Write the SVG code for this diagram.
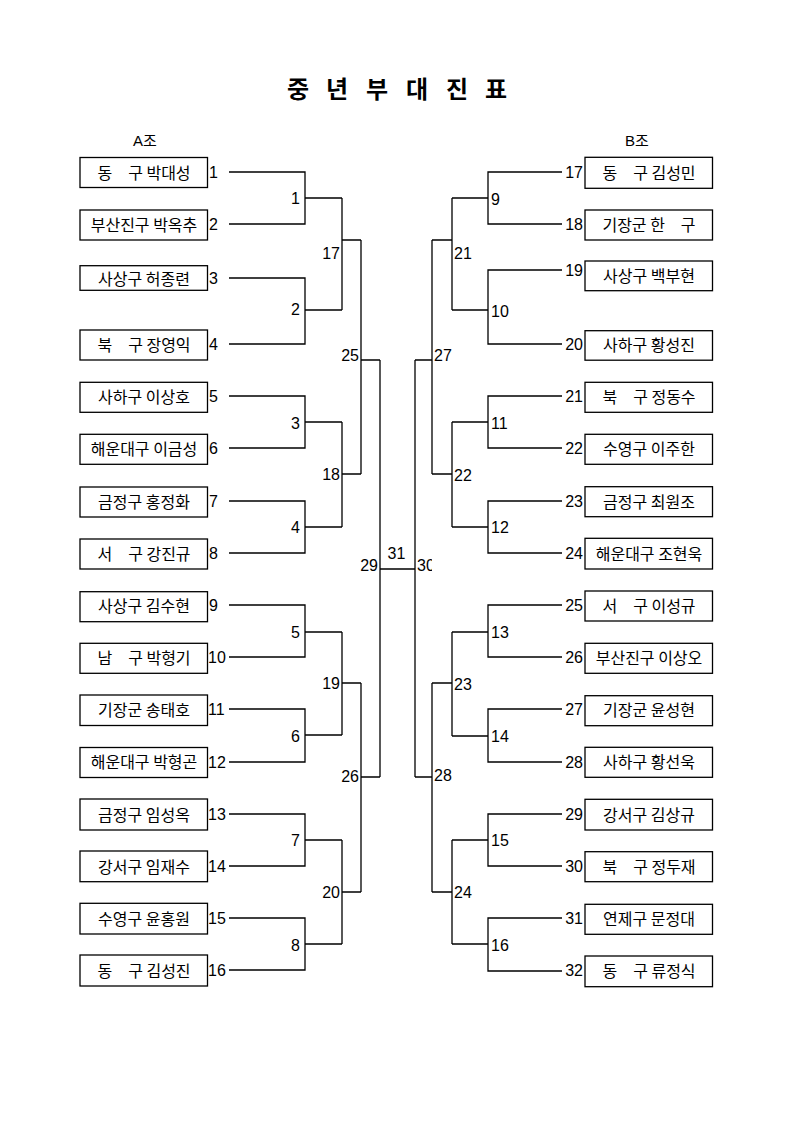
<svg xmlns="http://www.w3.org/2000/svg" width="794" height="1123" viewBox="0 0 794 1123">
<style>
.box{fill:#fff;stroke:#000;stroke-width:1.3}
.name{font-family:"Noto Sans CJK KR","Noto Sans CJK SC",sans-serif;font-size:16px;text-anchor:middle;fill:#000}
.num{font-family:"Liberation Sans",Arial,sans-serif;font-size:16px;fill:#000}
.end{text-anchor:end}
.mid{text-anchor:middle}
.conn{fill:none;stroke:#000;stroke-width:1.3}
.title{font-family:"Noto Sans CJK KR","Noto Sans CJK SC",sans-serif;font-size:24px;font-weight:bold;fill:#000}
.grp{font-family:"Liberation Sans","Noto Sans CJK KR",sans-serif;font-size:15px;fill:#000}
</style>
<defs>
<clipPath id="clip30"><rect x="410" y="550" width="22" height="30"/></clipPath>
</defs>
<rect width="794" height="1123" fill="#fff"/>
<g id="title"><text class="title" x="287 312 326 351 366 391 406 431 446 471 485" y="98">중 년 부 대 진 표</text></g>
<g id="group-a"><text class="grp" x="133" y="145.5">A조</text></g>
<g id="group-b"><text class="grp" x="625" y="145.5">B조</text></g>

<g id="connectors">
<path class="conn" d="M229 172H305V224H229M305 198H342"/>
<path class="conn" d="M229 278H305V344H229M305 310H342"/>
<path class="conn" d="M229 396H305V448H229M305 422H342"/>
<path class="conn" d="M229 501H305V553H229M305 527H342"/>
<path class="conn" d="M229 605H305V657H229M305 632H342"/>
<path class="conn" d="M229 709H305V762H229M305 735H342"/>
<path class="conn" d="M229 814H305V866H229M305 840H342"/>
<path class="conn" d="M229 918H305V970H229M305 944H342"/>
<path class="conn" d="M342 198V310M342 240H361"/>
<path class="conn" d="M342 422V527M342 474H361"/>
<path class="conn" d="M342 632V735M342 683H361"/>
<path class="conn" d="M342 840V944M342 892H361"/>
<path class="conn" d="M361 240V474M361 360H380"/>
<path class="conn" d="M361 683V892M361 777H380"/>
<path class="conn" d="M380 360V777M380 569H415"/>
<path class="conn" d="M415 360V777"/>
<path class="conn" d="M415 360H432M432 240V474"/>
<path class="conn" d="M415 777H432M432 683V892"/>
<path class="conn" d="M432 240H452M452 198V310"/>
<path class="conn" d="M432 474H452M452 422V527"/>
<path class="conn" d="M432 683H452M452 632V736"/>
<path class="conn" d="M432 892H452M452 840V944"/>
<path class="conn" d="M452 198H488M562 172H488V224H562"/>
<path class="conn" d="M452 310H488M562 270H488V344H562"/>
<path class="conn" d="M452 422H488M562 396H488V448H562"/>
<path class="conn" d="M452 527H488M562 501H488V553H562"/>
<path class="conn" d="M452 632H488M562 605H488V657H562"/>
<path class="conn" d="M452 736H488M562 709H488V762H562"/>
<path class="conn" d="M452 840H488M562 814H488V866H562"/>
<path class="conn" d="M452 944H488M562 918H488V971H562"/>
</g>

<g id="match-labels">
<text class="num end" x="300" y="203.5">1</text>
<text class="num end" x="300" y="315">2</text>
<text class="num end" x="300" y="428.5">3</text>
<text class="num end" x="300" y="533">4</text>
<text class="num end" x="300" y="637.5">5</text>
<text class="num end" x="300" y="741.5">6</text>
<text class="num end" x="300" y="846">7</text>
<text class="num end" x="300" y="950.5">8</text>
<text class="num end" x="340" y="258.5">17</text>
<text class="num end" x="340" y="479.5">18</text>
<text class="num end" x="340" y="689">19</text>
<text class="num end" x="340" y="897.5">20</text>
<text class="num end" x="359" y="360.5">25</text>
<text class="num end" x="359" y="782">26</text>
<text class="num end" x="378" y="570.5">29</text>
<text class="num mid" x="396.5" y="558.5">31</text>
<text class="num" x="417" y="570.5" clip-path="url(#clip30)">30</text>
<text class="num" x="434" y="360.5">27</text>
<text class="num" x="434" y="780.5">28</text>
<text class="num" x="454" y="259">21</text>
<text class="num" x="454" y="480.5">22</text>
<text class="num" x="454" y="689.5">23</text>
<text class="num" x="454" y="898">24</text>
<text class="num" x="491" y="205">9</text>
<text class="num" x="491" y="316.5">10</text>
<text class="num" x="491" y="428.5">11</text>
<text class="num" x="491" y="533">12</text>
<text class="num" x="491" y="637.5">13</text>
<text class="num" x="491" y="742">14</text>
<text class="num" x="491" y="846">15</text>
<text class="num" x="491" y="950.5">16</text>
</g>

<g id="player-1"><rect class="box" x="80" y="157.5" width="127.5" height="30"/><text class="name" x="144" y="178.5">동　구 박대성</text><text class="num" x="209" y="177.5">1</text></g>
<g id="player-2"><rect class="box" x="80" y="210" width="127.5" height="30"/><text class="name" x="144" y="230.5">부산진구 박옥추</text><text class="num" x="209" y="229.5">2</text></g>
<g id="player-3"><rect class="box" x="80" y="265.7" width="127.5" height="24.6"/><text class="name" x="144" y="284.5">사상구 허종련</text><text class="num" x="209" y="283.5">3</text></g>
<g id="player-4"><rect class="box" x="80" y="330" width="127.5" height="30"/><text class="name" x="144" y="350.5">북　구 장영익</text><text class="num" x="209" y="349.5">4</text></g>
<g id="player-5"><rect class="box" x="80" y="382.3" width="127.5" height="30"/><text class="name" x="144" y="402.5">사하구 이상호</text><text class="num" x="209" y="401.5">5</text></g>
<g id="player-6"><rect class="box" x="80" y="434.3" width="127.5" height="30"/><text class="name" x="144" y="454.5">해운대구 이금성</text><text class="num" x="209" y="453.5">6</text></g>
<g id="player-7"><rect class="box" x="80" y="487" width="127.5" height="30"/><text class="name" x="144" y="507.5">금정구 홍정화</text><text class="num" x="209" y="506.5">7</text></g>
<g id="player-8"><rect class="box" x="80" y="539" width="127.5" height="30"/><text class="name" x="144" y="559.5">서　구 강진규</text><text class="num" x="209" y="558.5">8</text></g>
<g id="player-9"><rect class="box" x="80" y="591.7" width="127.5" height="30"/><text class="name" x="144" y="611.5">사상구 김수현</text><text class="num" x="209" y="610.5">9</text></g>
<g id="player-10"><rect class="box" x="80" y="643.3" width="127.5" height="30"/><text class="name" x="144" y="663.5">남　구 박형기</text><text class="num" x="208" y="662.5">10</text></g>
<g id="player-11"><rect class="box" x="80" y="695" width="127.5" height="30.5"/><text class="name" x="144" y="715.5">기장군 송태호</text><text class="num" x="208" y="714.5">11</text></g>
<g id="player-12"><rect class="box" x="80" y="747.5" width="127.5" height="30"/><text class="name" x="144" y="768">해운대구 박형곤</text><text class="num" x="208" y="767.5">12</text></g>
<g id="player-13"><rect class="box" x="80" y="799" width="127.5" height="31"/><text class="name" x="144" y="820.5">금정구 임성옥</text><text class="num" x="208" y="819.5">13</text></g>
<g id="player-14"><rect class="box" x="80" y="851" width="127.5" height="30.7"/><text class="name" x="144" y="872.5">강서구 임재수</text><text class="num" x="208" y="871.5">14</text></g>
<g id="player-15"><rect class="box" x="80" y="903.3" width="127.5" height="30.7"/><text class="name" x="144" y="924.5">수영구 윤홍원</text><text class="num" x="208" y="923.5">15</text></g>
<g id="player-16"><rect class="box" x="80" y="955" width="127.5" height="31"/><text class="name" x="144" y="976.5">동　구 김성진</text><text class="num" x="208" y="975.5">16</text></g>

<g id="player-17"><rect class="box" x="585" y="157.3" width="127.5" height="31"/><text class="name" x="649" y="178.5">동　구 김성민</text><text class="num end" x="583" y="177.5">17</text></g>
<g id="player-18"><rect class="box" x="585" y="210" width="127.5" height="30"/><text class="name" x="649" y="230.5">기장군 한　구</text><text class="num end" x="583" y="229.5">18</text></g>
<g id="player-19"><rect class="box" x="585" y="261" width="127.5" height="29.7"/><text class="name" x="649" y="281.5">사상구 백부현</text><text class="num end" x="583" y="275.5">19</text></g>
<g id="player-20"><rect class="box" x="585" y="330.7" width="127.5" height="29.5"/><text class="name" x="649" y="350.5">사하구 황성진</text><text class="num end" x="583" y="349.5">20</text></g>
<g id="player-21"><rect class="box" x="585" y="382.3" width="127.5" height="30"/><text class="name" x="649" y="402.5">북　구 정동수</text><text class="num end" x="583" y="401.5">21</text></g>
<g id="player-22"><rect class="box" x="585" y="434.3" width="127.5" height="30"/><text class="name" x="649" y="454.5">수영구 이주한</text><text class="num end" x="583" y="453.5">22</text></g>
<g id="player-23"><rect class="box" x="585" y="486.7" width="127.5" height="30"/><text class="name" x="649" y="507.5">금정구 최원조</text><text class="num end" x="583" y="506.5">23</text></g>
<g id="player-24"><rect class="box" x="585" y="538.3" width="127.5" height="30.7"/><text class="name" x="649" y="559.5">해운대구 조현욱</text><text class="num end" x="583" y="558.5">24</text></g>
<g id="player-25"><rect class="box" x="585" y="591" width="127.5" height="30"/><text class="name" x="649" y="611.5">서　구 이성규</text><text class="num end" x="583" y="610.5">25</text></g>
<g id="player-26"><rect class="box" x="585" y="643.3" width="127.5" height="30"/><text class="name" x="649" y="663.5">부산진구 이상오</text><text class="num end" x="583" y="662.5">26</text></g>
<g id="player-27"><rect class="box" x="585" y="695.7" width="127.5" height="30"/><text class="name" x="649" y="715.5">기장군 윤성현</text><text class="num end" x="583" y="714.5">27</text></g>
<g id="player-28"><rect class="box" x="585" y="747.3" width="127.5" height="30"/><text class="name" x="649" y="768">사하구 황선욱</text><text class="num end" x="583" y="767.5">28</text></g>
<g id="player-29"><rect class="box" x="585" y="799.3" width="127.5" height="30.7"/><text class="name" x="649" y="820.5">강서구 김상규</text><text class="num end" x="583" y="819.5">29</text></g>
<g id="player-30"><rect class="box" x="585" y="851.7" width="127.5" height="30"/><text class="name" x="649" y="872.5">북　구 정두재</text><text class="num end" x="583" y="871.5">30</text></g>
<g id="player-31"><rect class="box" x="585" y="904.3" width="127.5" height="30"/><text class="name" x="649" y="924.5">연제구 문정대</text><text class="num end" x="583" y="923.5">31</text></g>
<g id="player-32"><rect class="box" x="585" y="956" width="127.5" height="30.7"/><text class="name" x="649" y="976.5">동　구 류정식</text><text class="num end" x="583" y="976">32</text></g>
</svg>
